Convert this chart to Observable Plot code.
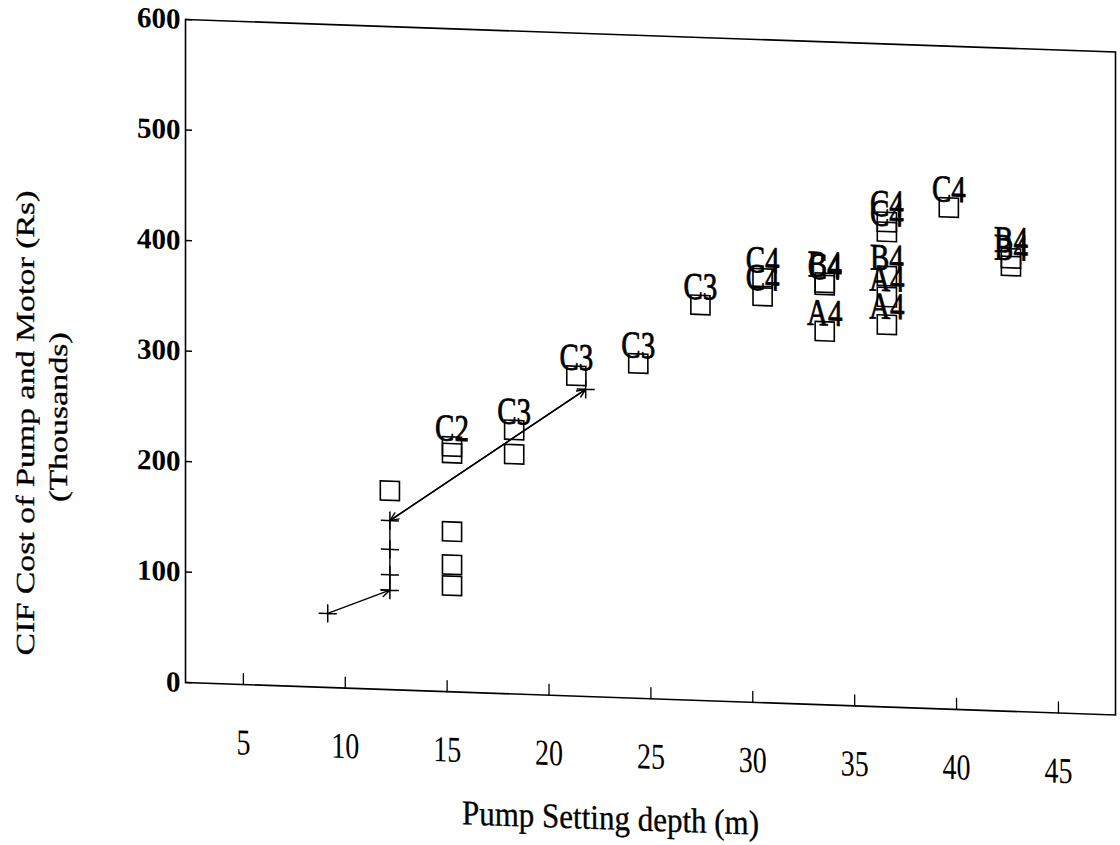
<!DOCTYPE html>
<html><head><meta charset="utf-8">
<script src="https://cdn.jsdelivr.net/npm/d3@7"></script>
<script src="https://cdn.jsdelivr.net/npm/@observablehq/plot@0.6"></script>
<style>
body{margin:0;background:#fff;}
#chart svg{transform:skewY(2deg);transform-origin:185px 0px;}
</style></head><body><div id="chart"></div>
<script>
const xTicks = [5, 10, 15, 20, 25, 30, 35, 40, 45];
const yTicks = [0, 100, 200, 300, 400, 500, 600];
const xTitle = "Pump Setting depth (m)";
const yTitle1 = "CIF Cost of Pump and Motor (Rs)";
const yTitle2 = "(Thousands)";

// squares (pump options); label "" = unlabeled
const sqX = [12.19, 15.24, 15.24, 15.24, 15.24, 15.24, 18.29, 18.29, 21.34, 24.38, 27.43,
             30.48, 30.48, 33.53, 33.53, 33.53, 36.58, 36.58, 36.58, 36.58, 36.58, 39.62, 42.67, 42.67];
const sqY = [180, 145, 115, 96, 222, 216, 239, 217, 290, 303, 358,
             384, 368, 382, 380, 338, 439, 430, 390, 371, 346, 454, 410, 403];
const sqLabel = ["", "", "", "", "C2", "", "C3", "", "C3", "C3", "C3",
                 "C4", "C4", "B4", "C4", "A4", "C4", "C4", "B4", "A4", "A4", "C4", "B4", "B4"];

// crosses (selected path)
const crossX = [9.14, 12.19, 12.19, 12.19, 12.19, 21.8];
const crossY = [67, 90, 104, 127, 153, 278];

const squares = sqX.map((x, i) => ({x, y: sqY[i], label: sqLabel[i]}));
const labeled = squares.filter(d => d.label !== "");
const crosses = crossX.map((x, i) => ({x, y: crossY[i]}));
const arrows = [
  {x1: crossX[0], y1: crossY[0], x2: crossX[1], y2: crossY[1]},
  {x1: crossX[5], y1: crossY[5], x2: crossX[4], y2: crossY[4]},
  {x1: crossX[4], y1: crossY[4], x2: crossX[5], y2: crossY[5]}
];
const links = [{x1: crossX[1], y1: crossY[1], x2: crossX[4], y2: crossY[4]}];

const tickShape = {draw(context, l) { context.moveTo(0, 0); context.lineTo(0, -l); }};

const chart = Plot.plot({
  width: 1120, height: 845,
  marginLeft: 185, marginRight: 5, marginTop: 19, marginBottom: 163,
  style: {fontFamily: "Liberation Serif", fontSize: "28px", background: "white", color: "black"},
  x: {domain: [2.16, 47.8], axis: null},
  y: {domain: [0, 600], axis: null},
  marks: [
    Plot.frame({stroke: "black", strokeWidth: 1.6}),
    Plot.axisY(yTicks, {tickSize: 7, dx: 7, strokeWidth: 1.3, tickFormat: () => ""}),
    Plot.vector(xTicks, {x: d => d, frameAnchor: "bottom", length: 11, rotate: 0, anchor: "start", shape: tickShape, stroke: "black", strokeWidth: 1.3}),
    Plot.axisY(yTicks, {tickSize: 0, tickPadding: 5, fontSize: 29, fontWeight: "bold", tickFormat: d => String(d)}),
    Plot.axisX(xTicks, {tickSize: 0, tickPadding: 44, fontSize: 28, stroke: "black", strokeWidth: 0.4, tickFormat: d => String(d)}),
    Plot.link(links, {x1: "x1", y1: "y1", x2: "x2", y2: "y2", stroke: "black", strokeWidth: 1.4}),
    Plot.arrow(arrows, {x1: "x1", y1: "y1", x2: "x2", y2: "y2", stroke: "black", strokeWidth: 1.4, headLength: 10, headAngle: 45}),
    Plot.dot(crosses, {x: "x", y: "y", symbol: "plus", r: 5.9, stroke: "black", strokeWidth: 1.5}),
    Plot.dot(squares, {x: "x", y: "y", symbol: "square", r: 10.8, stroke: "black", strokeWidth: 1.6, fill: "none"}),
    Plot.text(labeled, {x: "x", y: "y", text: "label", dy: -18, fontSize: 29, lineAnchor: "middle", fill: "black", stroke: "black", strokeWidth: 0.6}),
    Plot.text([xTitle], {text: d => d, frameAnchor: "bottom", textAnchor: "middle", dx: -40, dy: 121, fontSize: 31, lineAnchor: "middle", fill: "black", stroke: "black", strokeWidth: 0.3}),
    Plot.text([yTitle1], {text: d => d, frameAnchor: "top-left", textAnchor: "middle", dx: -160, dy: 409, rotate: -90, fontSize: 26, lineAnchor: "middle", fill: "black", stroke: "black", strokeWidth: 0.3}),
    Plot.text([yTitle2], {text: d => d, frameAnchor: "top-left", textAnchor: "middle", dx: -127, dy: 402, rotate: -90, fontSize: 26, lineAnchor: "middle", fill: "black", stroke: "black", strokeWidth: 0.3})
  ]
});
document.getElementById("chart").appendChild(chart);

function stretch(el, kx, ky) {
  const t = el.getAttribute("transform") || "";
  const x = +el.getAttribute("x") || 0, y = +el.getAttribute("y") || 0;
  el.setAttribute("transform", `${t} translate(${x},${y}) scale(${kx},${ky}) translate(${-x},${-y})`);
}
const yTickText = new Set(yTicks.map(String));
d3.select(chart).selectAll("text").each(function() {
  const s = this.textContent;
  if (s === yTitle1) {
    const L = this.getComputedTextLength();
    stretch(this, L > 0 ? 465 / L : 1.3, 1);
  } else if (s === yTitle2) {
    const L = this.getComputedTextLength();
    stretch(this, L > 0 ? 170 / L : 1.3, 1);
  } else if (s === xTitle) {
    stretch(this, 1, 1.12);
  } else if (!yTickText.has(s)) {
    stretch(this, 1, 1.3);
  }
});
</script></body></html>
